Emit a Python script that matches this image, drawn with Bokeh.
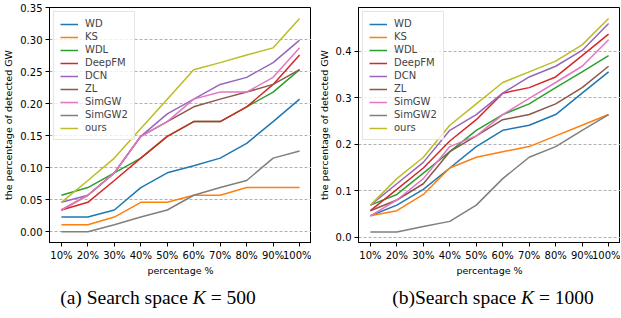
from bokeh.plotting import figure
from bokeh.models import FixedTicker, Legend, LegendItem, Div, Range1d, PrintfTickFormatter
from bokeh.layouts import column, row
from bokeh.embed import file_html
from bokeh.resources import INLINE

categories = ["10%", "20%", "30%", "40%", "50%", "60%", "70%", "80%", "90%", "100%"]
methods = ["WD", "KS", "WDL", "DeepFM", "DCN", "ZL", "SimGW", "SimGW2", "ours"]
colors = ["#1f77b4", "#ff7f0e", "#2ca02c", "#d62728", "#9467bd", "#8c564b", "#e377c2", "#7f7f7f", "#bcbd22"]

# Search space K = 500
wd_500 = [0.023, 0.023, 0.034, 0.069, 0.092, 0.103, 0.115, 0.138, 0.172, 0.207]
ks_500 = [0.011, 0.011, 0.023, 0.046, 0.046, 0.057, 0.057, 0.069, 0.069, 0.069]
wdl_500 = [0.057, 0.069, 0.092, 0.115, 0.149, 0.172, 0.172, 0.195, 0.218, 0.253]
deepfm_500 = [0.034, 0.046, 0.080, 0.115, 0.149, 0.172, 0.172, 0.195, 0.230, 0.276]
dcn_500 = [0.046, 0.057, 0.092, 0.149, 0.184, 0.207, 0.230, 0.241, 0.264, 0.299]
zl_500 = [0.034, 0.057, 0.092, 0.149, 0.172, 0.195, 0.207, 0.218, 0.230, 0.253]
simgw_500 = [0.034, 0.057, 0.092, 0.149, 0.172, 0.207, 0.218, 0.218, 0.241, 0.287]
simgw2_500 = [0.000, 0.000, 0.011, 0.023, 0.034, 0.057, 0.069, 0.080, 0.115, 0.126]
ours_500 = [0.046, 0.080, 0.115, 0.161, 0.207, 0.253, 0.264, 0.276, 0.287, 0.333]

# Search space K = 1000
wd_1000 = [0.046, 0.069, 0.103, 0.149, 0.195, 0.230, 0.241, 0.264, 0.310, 0.356]
ks_1000 = [0.046, 0.057, 0.092, 0.149, 0.172, 0.184, 0.195, 0.218, 0.241, 0.264]
wdl_1000 = [0.069, 0.092, 0.138, 0.184, 0.230, 0.264, 0.287, 0.322, 0.356, 0.391]
deepfm_1000 = [0.057, 0.103, 0.149, 0.207, 0.253, 0.310, 0.322, 0.345, 0.391, 0.437]
dcn_1000 = [0.069, 0.115, 0.161, 0.230, 0.264, 0.310, 0.345, 0.368, 0.402, 0.460]
zl_1000 = [0.057, 0.080, 0.115, 0.184, 0.218, 0.253, 0.264, 0.287, 0.322, 0.368]
simgw_1000 = [0.046, 0.080, 0.126, 0.195, 0.218, 0.264, 0.299, 0.333, 0.368, 0.425]
simgw2_1000 = [0.011, 0.011, 0.023, 0.034, 0.069, 0.126, 0.172, 0.195, 0.230, 0.264]
ours_1000 = [0.069, 0.126, 0.172, 0.241, 0.287, 0.333, 0.356, 0.379, 0.414, 0.471]

yticks_500 = [0.0, 0.05, 0.10, 0.15, 0.20, 0.25, 0.30, 0.35]
yticks_1000 = [0.0, 0.1, 0.2, 0.3, 0.4]

y_label = "the percentage of detected GW"
x_label = "percentage %"
caption_a = ("(a) Search space", "K", "= 500")
caption_b = ("(b)Search space", "K", "= 1000")

FONT = "DejaVu Sans"


def make_fig(series, yticks, fmt, y_start, y_end, min_left):
    p = figure(frame_width=262, frame_height=235,
               x_range=Range1d(-0.45, 9.45), y_range=Range1d(y_start, y_end),
               output_backend="svg", toolbar_location=None,
               min_border_left=min_left, min_border_right=0,
               min_border_top=7, min_border_bottom=0)
    xs = list(range(len(categories)))
    items = []
    for name, col, ys in zip(methods, colors, series):
        r = p.line(xs, ys, line_color=col, line_width=1.5)
        items.append(LegendItem(label=name, renderers=[r]))
    legend = Legend(items=items, location="top_left")
    legend.label_text_font = FONT
    legend.label_text_font_size = "10px"
    legend.glyph_width = 18
    legend.glyph_height = 10
    legend.label_height = 10
    legend.label_standoff = 7
    legend.spacing = 2
    legend.padding = 6
    legend.margin = 4
    legend.border_line_color = "#cccccc"
    legend.background_fill_alpha = 0.8
    p.add_layout(legend)

    p.xaxis.ticker = FixedTicker(ticks=xs)
    p.xaxis.major_label_overrides = {i: c for i, c in enumerate(categories)}
    p.yaxis.ticker = FixedTicker(ticks=yticks)
    p.yaxis.formatter = PrintfTickFormatter(format=fmt)
    for ax in (p.xaxis[0], p.yaxis[0]):
        ax.major_tick_in = 0
        ax.major_tick_out = 4
        ax.minor_tick_in = 0
        ax.minor_tick_out = 0
        ax.major_label_text_font = FONT
        ax.major_label_text_font_size = "10px"
        ax.major_label_text_color = "black"
        ax.axis_label_text_font = FONT
        ax.axis_label_text_font_size = "9.5px"
        ax.axis_label_text_font_style = "normal"
        ax.axis_label_text_color = "black"
        ax.axis_line_color = "black"
        ax.major_tick_line_color = "black"
        ax.major_label_standoff = 3
    p.xaxis.axis_label = x_label
    p.yaxis.axis_label = y_label
    p.xaxis.axis_label_standoff = 1
    p.yaxis.axis_label_standoff = 3
    p.xgrid.visible = False
    p.ygrid.grid_line_color = "#b0b0b0"
    p.ygrid.grid_line_dash = "3 2"
    p.ygrid.grid_line_width = 1
    p.outline_line_color = "black"
    p.outline_line_width = 1
    p.outline_line_alpha = 1
    return p


p1 = make_fig([wd_500, ks_500, wdl_500, deepfm_500, dcn_500, zl_500, simgw_500, simgw2_500, ours_500],
              yticks_500, "%.2f", -0.0167, 0.35, 40)
p2 = make_fig([wd_1000, ks_1000, wdl_1000, deepfm_1000, dcn_1000, zl_1000, simgw_1000, simgw2_1000, ours_1000],
              yticks_1000, "%.1f", -0.0115, 0.4945, 47)


def cap(parts, left):
    return ('<div style="position:absolute;left:%dpx;top:2px;width:300px;text-align:center;'
            'line-height:26px;white-space:nowrap">%s <i>%s</i> %s</div>' % (left, parts[0], parts[1], parts[2]))


html = ('<div style="position:relative;width:605px;height:28px;font-family:\'Liberation Serif\',serif;'
        'font-size:19.5px;color:black">' + cap(caption_a, 3) + cap(caption_b, 338) + '</div>')
div = Div(text=html, width=605, height=28)

layout = column(row(p1, p2), div)

open("out.html", "w").write(file_html(layout, INLINE))
